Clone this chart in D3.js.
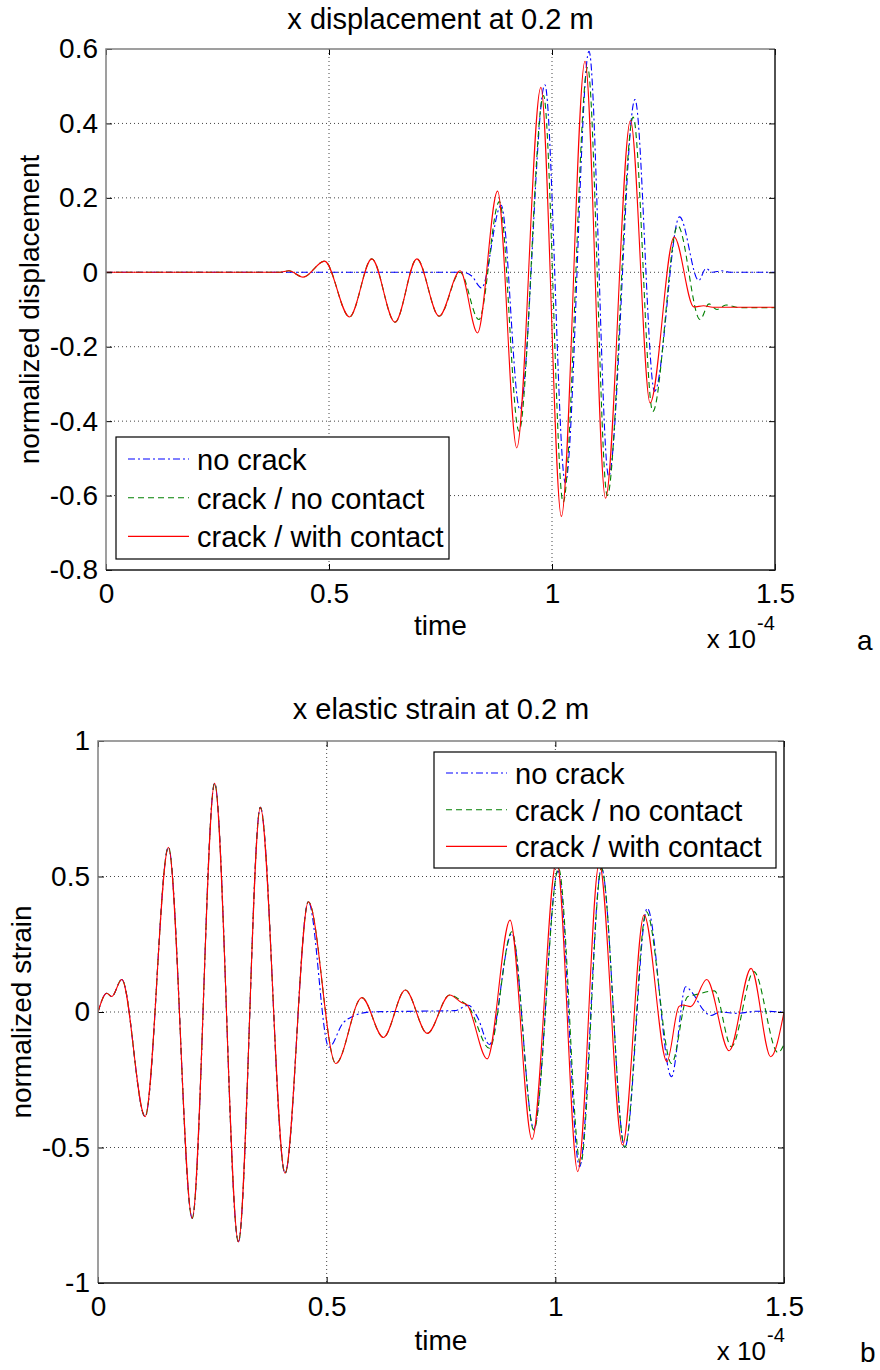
<!DOCTYPE html>
<html>
<head>
<meta charset="utf-8">
<script src="https://cdn.jsdelivr.net/npm/d3@7"></script>
<style>
  body { margin: 0; background: #fff; }
  svg text { font-family: "Liberation Sans", Arial, sans-serif; fill: #000; }
</style>
</head>
<body>
<div id="chart"></div>
<script>
// time axis values are in units of 1e-4 s (hence the "x 10^-4" note)
const seriesNames = ["no crack", "crack / no contact", "crack / with contact"];
const timeTicks = [0, 0.5, 1, 1.5];
const dispTicks = [-0.8, -0.6, -0.4, -0.2, 0, 0.2, 0.4, 0.6];
const strainTicks = [-1, -0.5, 0, 0.5, 1];

// panel a : x displacement at 0.2 m  ([time, value])
const dispNoCrack = [
  [0, 0], [0.80, 0], [0.82, -0.01], [0.842, -0.042], [0.886, 0.18], [0.928, -0.369],
  [0.984, 0.504], [1.03, -0.566], [1.083, 0.594], [1.127, -0.548], [1.186, 0.464],
  [1.23, -0.32], [1.286, 0.149], [1.329, -0.022], [1.345, 0.01], [1.36, 0],
  [1.38, 0.004], [1.4, 0], [1.5, 0]
];
const dispNoContact = [
  [0, 0], [0.39, 0], [0.41, 0.004], [0.442, -0.013], [0.49, 0.03], [0.546, -0.12],
  [0.596, 0.036], [0.648, -0.134], [0.697, 0.036], [0.747, -0.118], [0.794, 0.0],
  [0.836, -0.127], [0.882, 0.19], [0.926, -0.427], [0.981, 0.475], [1.025, -0.618],
  [1.08, 0.55], [1.124, -0.6], [1.182, 0.417], [1.226, -0.374], [1.282, 0.125],
  [1.332, -0.127], [1.352, -0.085], [1.37, -0.1], [1.39, -0.088], [1.42, -0.095], [1.5, -0.095]
];
const dispWithContact = [
  [0, 0], [0.39, 0], [0.41, 0.004], [0.442, -0.013], [0.49, 0.03], [0.546, -0.12],
  [0.596, 0.036], [0.648, -0.134], [0.697, 0.036], [0.747, -0.118], [0.794, 0.004],
  [0.833, -0.163], [0.878, 0.218], [0.921, -0.472], [0.975, 0.497], [1.021, -0.656],
  [1.074, 0.567], [1.12, -0.607], [1.176, 0.408], [1.22, -0.351], [1.274, 0.095],
  [1.318, -0.093], [1.34, -0.09], [1.36, -0.094], [1.5, -0.094]
];

// panel b : x elastic strain at 0.2 m
const strainNoCrack = [
  [0, 0], [0.019, 0.069], [0.03, 0.057], [0.052, 0.12], [0.103, -0.386], [0.154, 0.608],
  [0.206, -0.761], [0.255, 0.844], [0.307, -0.848], [0.355, 0.755], [0.409, -0.595],
  [0.46, 0.407], [0.505, -0.13], [0.536, -0.04], [0.556, -0.017], [0.596, 0],
  [0.7, 0.003], [0.78, 0.005], [0.81, 0.025], [0.83, -0.02], [0.856, -0.12],
  [0.905, 0.29], [0.953, -0.43], [1.006, 0.52], [1.053, -0.571], [1.101, 0.53],
  [1.152, -0.5], [1.201, 0.383], [1.254, -0.239], [1.285, 0.093], [1.30, 0.07],
  [1.324, 0.007], [1.34, -0.013], [1.36, 0], [1.4, -0.005], [1.44, 0.003], [1.5, 0]
];
const strainNoContact = [
  [0, 0], [0.019, 0.069], [0.03, 0.057], [0.052, 0.12], [0.103, -0.386], [0.154, 0.608],
  [0.206, -0.761], [0.255, 0.844], [0.307, -0.848], [0.355, 0.755], [0.409, -0.595],
  [0.46, 0.407], [0.52, -0.19], [0.577, 0.053], [0.624, -0.094], [0.672, 0.081],
  [0.72, -0.079], [0.769, 0.063], [0.795, 0.04], [0.81, 0.02], [0.856, -0.134],
  [0.905, 0.296], [0.953, -0.435], [1.007, 0.53], [1.055, -0.56], [1.101, 0.53],
  [1.152, -0.5], [1.199, 0.37], [1.254, -0.19], [1.289, 0.056], [1.31, 0.065],
  [1.348, 0.078], [1.385, -0.128], [1.434, 0.149], [1.487, -0.15], [1.5, -0.12]
];
const strainWithContact = [
  [0, 0], [0.019, 0.069], [0.03, 0.057], [0.052, 0.12], [0.103, -0.386], [0.154, 0.608],
  [0.206, -0.761], [0.255, 0.844], [0.307, -0.848], [0.355, 0.755], [0.409, -0.595],
  [0.46, 0.407], [0.52, -0.19], [0.577, 0.053], [0.624, -0.094], [0.672, 0.081],
  [0.72, -0.079], [0.769, 0.063], [0.795, 0.035], [0.807, 0.026], [0.851, -0.173],
  [0.901, 0.339], [0.949, -0.47], [1.003, 0.56], [1.049, -0.589], [1.096, 0.55],
  [1.147, -0.491], [1.194, 0.358], [1.244, -0.183], [1.27, 0.02], [1.278, 0.026],
  [1.296, 0.02], [1.331, 0.12], [1.38, -0.143], [1.428, 0.161], [1.471, -0.165], [1.5, 0]
];

const lineStyles = [
  { color: "#0000ff", dash: "7,3,2,3" },
  { color: "#008000", dash: "6,4" },
  { color: "#ff0000", dash: null }
];

const svg = d3.select("#chart").append("svg")
  .attr("width", 880)
  .attr("height", 1370);

const fmt = d => (Math.round(d * 10) / 10).toString();

function drawPanel(opt) {
  const g = svg.append("g");
  const x = d3.scaleLinear().domain([0, 1.5]).range([opt.left, opt.right]);
  const y = d3.scaleLinear().domain(opt.yDomain).range([opt.bottom, opt.top]);

  // dotted grid
  g.selectAll(".gx").data(timeTicks.slice(1, -1)).enter().append("line")
    .attr("x1", d => x(d)).attr("x2", d => x(d))
    .attr("y1", opt.top).attr("y2", opt.bottom)
    .attr("stroke", "#444").attr("stroke-width", 1).attr("stroke-dasharray", "1,3");
  g.selectAll(".gy").data(opt.yTicks.slice(1, -1)).enter().append("line")
    .attr("y1", d => y(d)).attr("y2", d => y(d))
    .attr("x1", opt.left).attr("x2", opt.right)
    .attr("stroke", "#444").attr("stroke-width", 1).attr("stroke-dasharray", "1,3");

  // curves
  const clipId = "clip-" + opt.id;
  svg.append("clipPath").attr("id", clipId).append("rect")
    .attr("x", opt.left).attr("y", opt.top)
    .attr("width", opt.right - opt.left).attr("height", opt.bottom - opt.top);

  const line = d3.line()
    .x(d => x(d[0]))
    .y(d => y(d[1]))
    .curve(d3.curveMonotoneX);

  opt.series.forEach((s, i) => {
    g.append("path")
      .attr("clip-path", `url(#${clipId})`)
      .attr("d", line(s))
      .attr("fill", "none")
      .attr("stroke", lineStyles[i].color)
      .attr("stroke-width", 1.1)
      .attr("stroke-dasharray", lineStyles[i].dash);
  });

  // axes (inward ticks like matlab)
  const ax = g.append("g").attr("transform", `translate(0,${opt.bottom})`)
    .call(d3.axisBottom(x).tickValues(timeTicks).tickFormat(fmt).tickSize(-6).tickPadding(13));
  const ay = g.append("g").attr("transform", `translate(${opt.left},0)`)
    .call(d3.axisLeft(y).tickValues(opt.yTicks).tickFormat(fmt).tickSize(-6).tickPadding(8));
  g.append("g").attr("transform", `translate(0,${opt.top})`)
    .call(d3.axisTop(x).tickValues(timeTicks).tickFormat("").tickSize(-6));
  g.append("g").attr("transform", `translate(${opt.right},0)`)
    .call(d3.axisRight(y).tickValues(opt.yTicks).tickFormat("").tickSize(-6));
  g.selectAll(".domain").remove();
  g.selectAll(".tick line").attr("stroke", "#000");
  [ax, ay].forEach(a => a.selectAll("text")
    .attr("font-size", 28)
    .attr("font-family", "Liberation Sans, Arial, sans-serif")
    .attr("fill", "#000"));

  // box
  g.append("path")
    .attr("d", `M${opt.left},${opt.bottom}V${opt.top}H${opt.right}`)
    .attr("fill", "none").attr("stroke", "#808080").attr("stroke-width", 1.5);
  g.append("path")
    .attr("d", `M${opt.left},${opt.bottom}H${opt.right}V${opt.top}`)
    .attr("fill", "none").attr("stroke", "#1a1a1a").attr("stroke-width", 1.5);

  // title and labels
  const cx = (opt.left + opt.right) / 2;
  g.append("text").attr("x", cx).attr("y", opt.titleY)
    .attr("text-anchor", "middle").attr("font-size", 29).text(opt.title);
  g.append("text").attr("x", cx).attr("y", opt.xLabelY)
    .attr("text-anchor", "middle").attr("font-size", 28).text("time");
  g.append("text")
    .attr("transform", `translate(${opt.yLabelX},${(opt.top + opt.bottom) / 2}) rotate(-90)`)
    .attr("text-anchor", "middle").attr("font-size", 28).text(opt.yLabel);

  // x 10^-4 note
  g.append("text").attr("x", opt.expX).attr("y", opt.expY)
    .attr("text-anchor", "end").attr("font-size", 26).text("x 10");
  g.append("text").attr("x", opt.expX + 1).attr("y", opt.expY - 18)
    .attr("font-size", 20).text("-4");
  g.append("text").attr("x", opt.tagX).attr("y", opt.expY + 2)
    .attr("font-size", 28).text(opt.tag);

  // legend
  const lg = g.append("g");
  lg.append("rect")
    .attr("x", opt.legend.x).attr("y", opt.legend.y)
    .attr("width", opt.legend.w).attr("height", opt.legend.h)
    .attr("fill", "#fff").attr("stroke", "#000").attr("stroke-width", 1.2);
  seriesNames.forEach((name, i) => {
    const ry = opt.legend.y + opt.legend.row0 + i * opt.legend.step;
    lg.append("line")
      .attr("x1", opt.legend.x + 12).attr("x2", opt.legend.x + 73)
      .attr("y1", ry).attr("y2", ry)
      .attr("stroke", lineStyles[i].color).attr("stroke-width", 1.1)
      .attr("stroke-dasharray", lineStyles[i].dash);
    lg.append("text")
      .attr("x", opt.legend.x + 81).attr("y", ry + 11)
      .attr("font-size", 29).text(name);
  });
}

drawPanel({
  id: "a", left: 106, right: 775, top: 49, bottom: 570,
  yDomain: [-0.8, 0.6], yTicks: dispTicks,
  series: [dispNoCrack, dispNoContact, dispWithContact],
  title: "x displacement at 0.2 m", titleY: 29,
  xLabelY: 635, yLabel: "normalized displacement", yLabelX: 39,
  expX: 756, expY: 648, tag: "a", tagX: 857,
  legend: { x: 116, y: 437, w: 333, h: 122, row0: 22, step: 38.7 }
});

drawPanel({
  id: "b", left: 98, right: 784, top: 741, bottom: 1283,
  yDomain: [-1, 1], yTicks: strainTicks,
  series: [strainNoCrack, strainNoContact, strainWithContact],
  title: "x elastic strain at 0.2 m", titleY: 719,
  xLabelY: 1350, yLabel: "normalized strain", yLabelX: 31,
  expX: 766, expY: 1360, tag: "b", tagX: 860,
  legend: { x: 434, y: 752, w: 342, h: 116, row0: 21, step: 36.7 }
});
</script>
</body>
</html>
